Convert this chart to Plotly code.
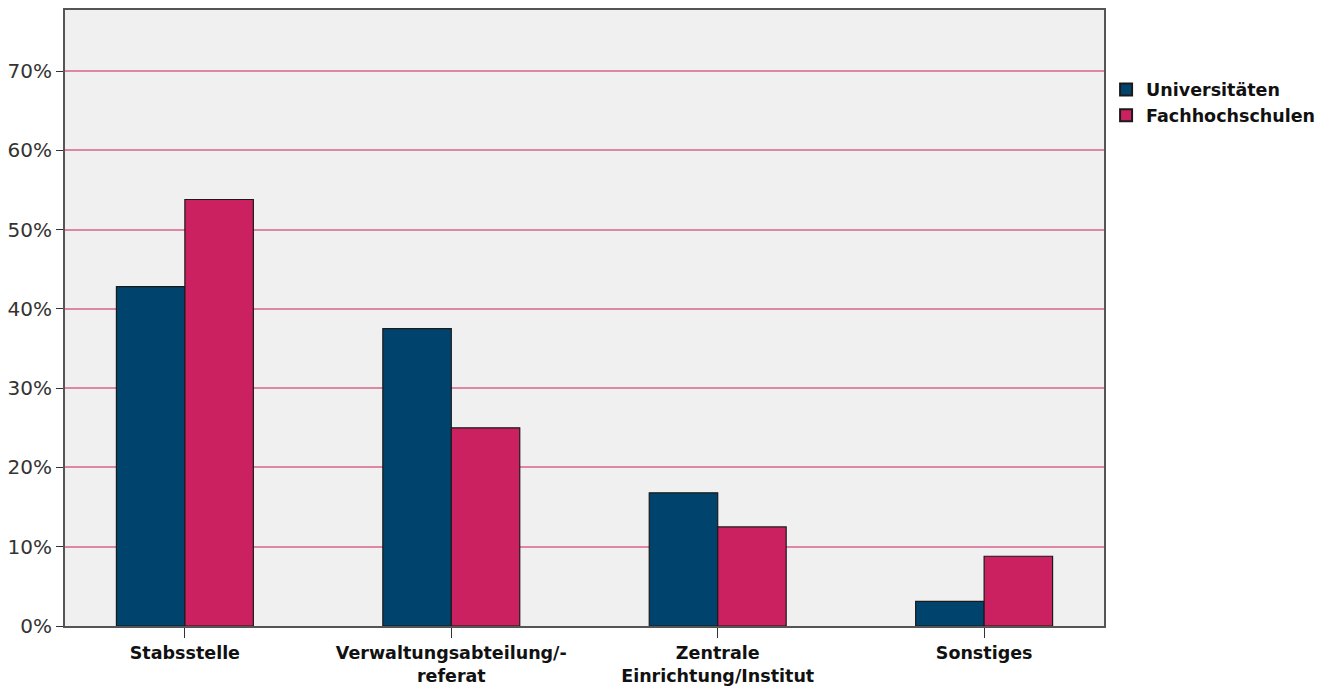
import plotly.graph_objects as go

# Organisationsform, Anteile in Prozent
kategorien = ['Stabsstelle', 'Verwaltungsabteilung/-<br>referat',
              'Zentrale<br>Einrichtung/Institut', 'Sonstiges']
universitaeten = [42.8, 37.5, 16.8, 3.1]
fachhochschulen = [53.8, 25.0, 12.5, 8.8]
y_ticks = [0, 10, 20, 30, 40, 50, 60, 70]
y_labels = ['0%', '10%', '20%', '30%', '40%', '50%', '60%', '70%']

schrift = 'DejaVu Sans'
linie = dict(color='#1a1a1a', width=1.2)

fig = go.Figure()
fig.add_trace(go.Bar(x=kategorien, y=universitaeten, name='Universitäten',
                     marker=dict(color='#00446E', line=linie)))
fig.add_trace(go.Bar(x=kategorien, y=fachhochschulen, name='Fachhochschulen',
                     marker=dict(color='#CC2160', line=linie)))

fig.update_layout(
    width=1331, height=688,
    barmode='group', bargap=0.486, bargroupgap=0,
    paper_bgcolor='white', plot_bgcolor='#F0F0F0',
    margin=dict(l=57, r=235, t=2, b=70),
    font=dict(family=schrift, size=17, color='#222222'),
    legend=dict(x=1.002, y=0.9, xanchor='left', yanchor='top',
                bgcolor='rgba(0,0,0,0)',
                font=dict(family=schrift, size=17.5, color='#111111', weight='bold'),
                itemsizing='constant', tracegroupgap=0, itemwidth=30),
    showlegend=True,
)
fig.update_xaxes(range=[-0.45, 3.45], showline=True, linecolor='#555555', linewidth=2,
                 mirror=True, ticks='outside', ticklen=10, tickcolor='#333333',
                 tickfont=dict(family=schrift, size=17.5, color='#111111', weight='bold'),
                 showgrid=False, automargin=False)
fig.update_yaxes(range=[0, 77.7], tickvals=y_ticks, ticktext=y_labels,
                 showline=True, linecolor='#555555', linewidth=2, mirror=True,
                 ticks='outside', ticklen=7, tickcolor='#333333',
                 tickfont=dict(family=schrift, size=20, color='#333333'),
                 showgrid=True, gridcolor='#DE86A6', gridwidth=2, zeroline=False,
                 automargin=False)

fig.write_html('out.html')
